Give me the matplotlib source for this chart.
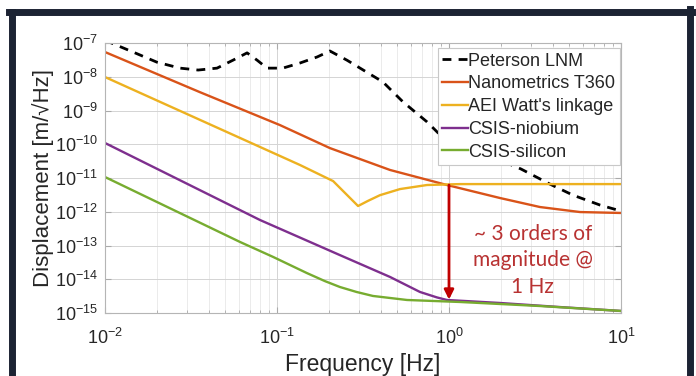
import matplotlib
matplotlib.use("Agg")
import matplotlib.pyplot as plt
from matplotlib.lines import Line2D

# ---- data ----
lnm_f = [0.01, 0.01455, 0.02004, 0.0273, 0.0348, 0.0448, 0.0555, 0.067, 0.0766,
         0.0875, 0.108, 0.136, 0.171, 0.203, 0.255, 0.413, 0.54, 0.745, 0.887,
         2.62, 3.86, 5.26, 7.55, 10.0]
lnm_d = [1.2e-7, 5.4e-8, 2.7e-8, 1.8e-8, 1.58e-8, 1.8e-8, 3.1e-8, 5.1e-8, 3.1e-8,
         1.8e-8, 1.8e-8, 2.55e-8, 3.85e-8, 5.8e-8, 3.1e-8, 7.0e-9, 1.8e-9, 4.6e-10, 1.9e-10,
         1.85e-11, 6.6e-12, 3.1e-12, 1.58e-12, 1.05e-12]

t360_f = [0.01, 0.0356, 0.104, 0.203, 0.454, 0.973, 1.98, 3.38, 5.78, 10.0]
t360_d = [5.4e-8, 3.5e-9, 3.7e-10, 7.7e-11, 1.73e-11, 6.2e-12, 2.55e-12, 1.38e-12, 9.8e-13, 9.2e-13]

aei_f = [0.01, 0.136, 0.212, 0.296, 0.338, 0.397, 0.519, 0.745, 1.16, 10.0]
aei_d = [9.8e-9, 2.43e-11, 8.1e-12, 1.48e-12, 2.1e-12, 3.1e-12, 4.7e-12, 6.2e-12, 6.6e-12, 6.6e-12]

nb_f = [0.01, 0.0796, 0.232, 0.454, 0.678, 0.85, 0.973, 1.98, 4.42, 10.0]
nb_d = [1.09e-10, 5.7e-13, 5.2e-14, 1.17e-14, 4.2e-15, 2.9e-15, 2.43e-15, 1.98e-15, 1.5e-15, 1.15e-15]

si_f = [0.01, 0.061, 0.0948, 0.149, 0.19, 0.232, 0.29, 0.361, 0.57, 1.16, 3.38, 10.0]
si_d = [1.07e-11, 1.27e-13, 4.6e-14, 1.53e-14, 8.8e-15, 5.9e-15, 4.2e-15, 3.2e-15, 2.43e-15, 2.12e-15, 1.61e-15, 1.15e-15]

labels = ["Peterson LNM", "Nanometrics T360", "AEI Watt's linkage", "CSIS-niobium", "CSIS-silicon"]
xticks = [1e-2, 1e-1, 1e0, 1e1]
xticklabels = [r"$10^{-2}$", r"$10^{-1}$", r"$10^{0}$", r"$10^{1}$"]
yticks = [10.0**e for e in range(-15, -6)]
yticklabels = [r"$10^{%d}$" % e for e in range(-15, -6)]

arrow_f = 1.0
arrow_top = 6.2e-12
arrow_bot = 2.5e-15
note = "~ 3 orders of\nmagnitude @\n1 Hz"

# ---- figure ----
plt.rcParams['font.family'] = ['Liberation Sans', 'DejaVu Sans']
plt.rcParams['mathtext.fontset'] = 'custom'
plt.rcParams['mathtext.rm'] = 'Liberation Sans'
plt.rcParams['mathtext.it'] = 'Liberation Sans'

fig = plt.figure(figsize=(6.96, 3.76), dpi=100)
ax = fig.add_axes([105/696, 1-313/376, 516/696, 270/376])

ax.plot(lnm_f, lnm_d, color='black', ls=(0, (3.2, 2.6)), lw=2.0, label=labels[0])
ax.plot(t360_f, t360_d, color='#D95319', lw=1.7, label=labels[1])
ax.plot(aei_f, aei_d, color='#EDB120', lw=1.7, label=labels[2])
ax.plot(nb_f, nb_d, color='#7E2F8E', lw=1.7, label=labels[3])
ax.plot(si_f, si_d, color='#77AC30', lw=1.7, label=labels[4])

ax.set_xscale('log')
ax.set_yscale('log')
ax.set_xlim(1e-2, 1e1)
ax.set_ylim(1e-15, 1e-7)
ax.set_xticks(xticks)
ax.set_xticklabels(xticklabels)
ax.set_yticks(yticks)
ax.set_yticklabels(yticklabels)
ax.tick_params(which='both', direction='in', top=True, right=True, colors='#aaaaaa',
               labelcolor='#262626', labelsize=13)
ax.tick_params(which='major', length=4)
ax.tick_params(which='minor', length=2)
ax.tick_params(axis='x', pad=11)
ax.tick_params(axis='y', pad=5)
ax.grid(True, which='major', color='#d4d4d4', lw=0.7)
ax.grid(True, which='minor', color='#e8e8e8', lw=0.6)
ax.set_axisbelow(True)
for s in ax.spines.values():
    s.set_color('#b5b5b5')
    s.set_linewidth(0.8)

ax.set_xlabel("Frequency [Hz]", fontsize=16.5, color='#262626', labelpad=3)
ax.set_ylabel("Displacement [m/\u221aHz]", fontsize=16, color='#262626', labelpad=1)

leg = ax.legend(loc='upper right', bbox_to_anchor=(0.998, 0.981), borderaxespad=0,
                fontsize=13, handlelength=1.4, handletextpad=0.05, labelspacing=0.32,
                borderpad=0.25, frameon=True, fancybox=False, framealpha=1)
leg.get_frame().set_edgecolor('#c8c8c8')
leg.get_frame().set_linewidth(0.8)
for t in leg.get_texts():
    t.set_color('#262626')

ax.annotate('', xy=(arrow_f, arrow_bot), xytext=(arrow_f, arrow_top),
            arrowprops=dict(arrowstyle='-|>', color='#C00000', lw=2.0,
                            mutation_scale=14, shrinkA=0, shrinkB=0))
ax.text(0.829, 0.195, note, transform=ax.transAxes, ha='center', va='center',
        fontsize=15, color='#B83232', family=['Lato', 'DejaVu Sans'], linespacing=1.4)

# dark outer frame
fc = '#1c2333'
fig.add_artist(Line2D([12/696, 12/696], [0, 1-11.5/376], color=fc, lw=5, transform=fig.transFigure))
fig.add_artist(Line2D([9/696, 692/696], [1-11.5/376, 1-11.5/376], color=fc, lw=5, transform=fig.transFigure))
fig.add_artist(Line2D([690/696, 690/696], [0, 1-9/376], color=fc, lw=5, transform=fig.transFigure))

fig.savefig('out.png', dpi=100)
